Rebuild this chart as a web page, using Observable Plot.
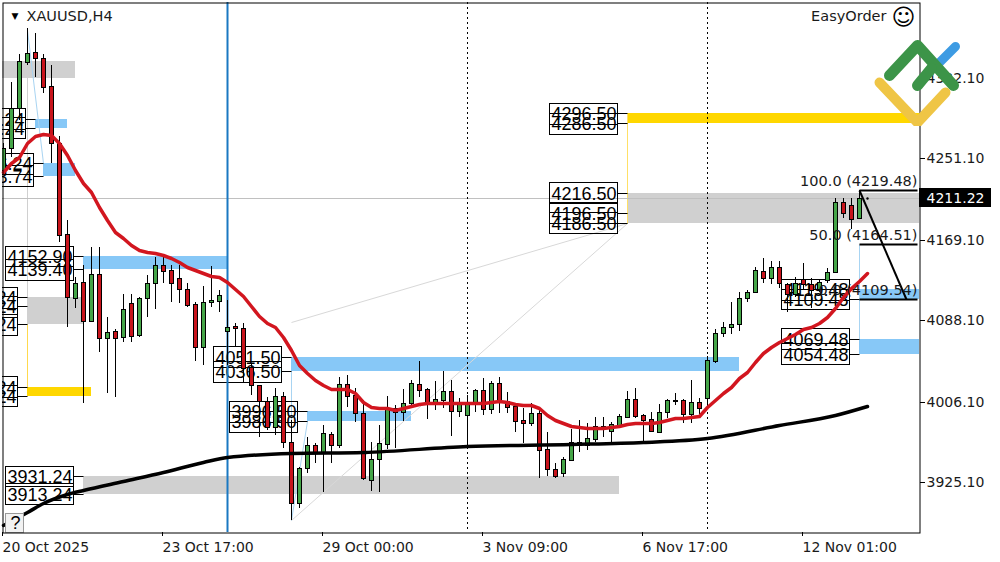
<!DOCTYPE html>
<html>
<head>
<meta charset="utf-8">
<script src="https://cdn.jsdelivr.net/npm/d3@7"></script>
<script src="https://cdn.jsdelivr.net/npm/@observablehq/plot@0.6"></script>
<style>
html,body{margin:0;padding:0;background:#fff;overflow:hidden}
svg{display:block}
</style>
</head>
<body>
<div id="chart"></div>
<script>
const symbolLabel = "XAUUSD,H4";
const eaLabel = "EasyOrder";
const lastPrice = 4211.22;
const priceTicks = [4332.10, 4251.10, 4169.10, 4088.10, 4006.10, 3925.10];
const timeTickBars = [0, 20, 40, 60, 80, 100];
const timeTickLabels = ["20 Oct 2025", "23 Oct 17:00", "29 Oct 00:00", "3 Nov 09:00", "6 Nov 17:00", "12 Nov 01:00"];

const opens = [4239.4,4261.7,4302.0,4348.3,4358.3,4352.3,4324.0,4266.7,4175.1,4110.5,4126.5,4087.2,4134.8,4070.2,4077.2,4071.2,4105.5,4073.2,4110.5,4125.5,4143.8,4138.8,4130.8,4119.5,4104.5,4061.2,4106.5,4107.5,4077.2,4082.2,4080.2,4040.9,4022.9,4006.6,3980.6,4011.9,3965.3,3904,3939.3,3962.3,3954.3,3973.6,3962.3,4023.9,4012.9,3994.6,3927.3,3948.3,3963.3,3999.6,3995.6,4004.6,4023.9,4018.9,4004.6,4007.7,4016.9,3996.6,3992.6,4005.6,4017.9,3998.6,4024.9,4006.6,4001.6,3987.6,3984.6,3994.6,3958.3,3938.3,3934.3,3947.3,3962.3,3962.3,3968.6,3981.6,3976.6,3982.6,3990.6,4008.9,3992.6,3988.6,3975.6,3995.6,4006.6,4007.6,3993.6,4005.6,4009.9,4046.9,4075.2,4081.2,4084.2,4110.5,4116.5,4137.8,4130.8,4141.8,4124.5,4114.5,4129.5,4124.5,4119.5,4128.8,4136.8,4207.1,4204.1,4191.1];
const highs = [4266.7,4328.0,4356.3,4382.5,4377.5,4356.3,4345.3,4273.7,4189.1,4131.8,4143.8,4161.8,4161.8,4091.5,4079.2,4114.5,4114.5,4111.5,4133.8,4151.8,4151.8,4143.8,4143.8,4125.5,4106.5,4122.5,4142.8,4118.5,4108.5,4085.2,4085.2,4044.9,4022.9,4010.9,4019.9,4015.9,3987.6,3940.3,3970.6,3964.3,3982.6,3975.6,4030.9,4032.9,4019.9,4007.6,3965.3,3982.6,4011.9,4002.6,4018.9,4027.9,4046.9,4019.9,4026.9,4036.9,4027.9,4009.9,4012.9,4018.9,4029.9,4026.9,4030.9,4015.9,4004.6,3999.6,4004.6,3999.6,3975.6,3944.3,3950.3,3978.6,3987.6,3984.6,3990.6,3990.6,3985.6,3993.6,4016.9,4019.9,3993.6,3995.6,4003.6,4008.9,4014.9,4008.9,4027.9,4009.9,4052.2,4079.2,4086.2,4106.5,4116.5,4118.5,4141.8,4150.8,4147.8,4147.8,4125.5,4131.8,4145.8,4130.8,4128.5,4140.8,4211.4,4211.4,4211.4,4219.4];
const lows = [4234.4,4252.7,4290.0,4345.3,4333.3,4317.0,4246.4,4166.8,4081.2,4100.5,4004.6,4087.2,4056.2,4014.9,4010.9,4066.2,4066.2,4071.2,4091.5,4099.5,4125.5,4106.5,4105.5,4101.5,4046.9,4042.9,4101.5,4096.5,4042.9,4061.2,4024.9,4012.9,3970.6,3977.6,3972.6,3959.3,3887,3899,3934.3,3944.3,3915,3944.3,3959.3,4000.6,3985.6,3927.3,3916,3915,3958.3,3959.3,3986.6,3999.6,4010.9,3988.6,3997.6,3999.6,3971.6,3990.6,3960.3,3995.6,3992.6,3993.6,3994.6,3994.6,3975.6,3964.3,3981.6,3929.3,3931.3,3929.3,3930.3,3947.3,3955.3,3957.3,3965.3,3970.6,3965.3,3979.6,3990.6,3989.6,3965.3,3975.6,3974.6,3989.6,4002.6,3984.6,3984.6,3993.6,4000.6,4044.9,4071.2,4074.2,4077.2,4106.5,4115.5,4125.5,4124.5,4120.5,4096.5,4111.5,4119.5,4100.5,4116.5,4125.5,4135.8,4191.1,4180.1,4190.1];
const closes = [4261.7,4302.0,4349.3,4357.3,4352.3,4323.0,4266.7,4174.1,4111.5,4125.5,4087.2,4134.8,4070.2,4076.2,4070.2,4099.5,4072.2,4110.5,4125.5,4143.8,4137.8,4125.5,4119.5,4103.5,4061.2,4106.5,4108.5,4113.5,4081.2,4080.2,4039.9,4022.9,4006.6,3980.6,4011.9,3965.3,3904,3939.3,3962.3,3954.3,3974.6,3962.3,4023.9,4011.9,3994.6,3929.3,3948.3,3964.3,3998.6,3995.6,4004.6,4024.9,4017.9,4004.6,4008.9,4016.9,3996.6,4004.6,4004.6,4017.9,3998.6,4024.9,4005.6,4000.6,3986.6,3984.6,3994.6,3957.3,3938.3,3931.3,3948.3,3965.3,3965.3,3969.6,3981.6,3978.6,3983.6,3991.6,4008.9,3991.6,3987.6,3976.6,3995.6,4007.6,4007.6,3993.6,4005.6,3999.6,4048.2,4075.2,4081.2,4084.2,4110.5,4116.5,4138.8,4130.8,4141.8,4125.5,4114.5,4125.5,4124.5,4118.5,4126.5,4136.8,4207.1,4196.1,4190.1,4211.4];

const fastMA = [4237.4,4246.5,4252.5,4266.6,4273.7,4275.7,4274.7,4266.6,4254.5,4239.4,4226.3,4217.3,4202.2,4189.1,4177.0,4170.9,4163.9,4158.9,4156.8,4155.8,4153.8,4150.8,4146.8,4141.7,4138.7,4135.7,4132.7,4131.7,4126.6,4119.6,4112.5,4102.4,4092.4,4085.3,4081.3,4071.2,4058.1,4043.0,4034.9,4027.9,4022.8,4018.8,4018.8,4018.8,4014.8,4005.7,4000.7,3999.7,3999.7,3997.7,3999.7,4001.7,4003.7,4004.7,4004.7,4004.7,4004.7,4004.7,4004.7,4004.7,4004.7,4005.7,4006.7,4005.7,4003.7,4002.7,4002.7,3999.7,3992.6,3987.6,3984.6,3981.5,3980.5,3979.5,3979.5,3979.5,3980.5,3981.5,3983.5,3984.6,3984.6,3984.6,3985.6,3987.6,3989.6,3989.6,3990.6,3991.6,4000.7,4007.7,4014.8,4020.8,4029.9,4035.9,4046.0,4055.1,4061.1,4066.2,4070.2,4074.2,4079.3,4081.3,4085.3,4091.4,4100.4,4111.5,4120.6,4127.6,4135.7];
const slowMABars = [0,3,5,8,10,15,20,25,28,36,45,58,71,80,88,97,104,108];
const slowMAValues = [3881.8,3894.9,3904.0,3913.0,3917.1,3926.1,3935.2,3945.3,3950.3,3954.3,3955.4,3961.4,3963.4,3965.4,3969.4,3982.6,3992.6,4001.7];

// zones: start bar, end bar, top level, bottom level, kind
const zoneStart = [-1,3.94,4.94,9.94,2.94,2.94,9.94,35.94,37.94,77.94,77.94,106.94,106.94];
const zoneEnd   = [8.94,7.94,8.94,27.94,9.94,10.94,76.94,91.94,50.94,116,116,116,116];
const zoneTop   = [4349.2,4291.24,4246.24,4152.90,4111.24,4021.24,3931.24,4051.50,3996.50,4216.50,4296.50,4069.48,4119.48];
const zoneBot   = [4332.1,4282.24,4233.74,4139.40,4084.24,4012.24,3913.24,4036.50,3986.50,4186.50,4286.50,4054.48,4109.48];
const zoneKind  = ["g","b","b","b","g","y","g","b","b","g","y","b","b"];
const zoneColors = {g:"#d0d0d0", b:"#87c8f7", y:"#ffd700"};

// boxed level labels: level, right edge of box (bar), end of leader (bar)
const boxLevels = [4291.24,4282.24,4246.24,4233.74,4152.90,4139.40,4111.24,4102.24,4084.24,4021.24,4012.24,3931.24,3913.24,4051.50,4036.50,3996.50,3986.50,4296.50,4286.50,4216.50,4196.50,4186.50,4119.48,4109.48,4069.48,4054.48];
const boxRight  = [2.69,2.69,3.69,3.69,8.69,8.69,1.69,1.69,1.69,1.69,1.69,8.69,8.69,34.81,34.81,36.69,36.69,76.69,76.69,76.69,76.69,76.69,105.69,105.69,105.69,105.69];
const boxLeader = [3.94,3.94,4.94,4.94,9.94,9.94,2.94,2.94,2.94,2.94,2.94,9.94,9.94,35.94,35.94,37.94,37.94,77.94,77.94,77.94,77.94,77.94,106.94,106.94,106.94,106.94];

// fib retracement
const fibLevels = [4219.48,4164.51,4109.54];
const fibText = ["100.0 (4219.48)","50.0 (4164.51)","0.0 (4109.54)"];

// thin connector lines: bar1, price1, bar2, price2, colour
const thinBar1 = [2.94,2.94,2.94,9.94,35.94,35.94,35.94,35.94,77.94,106.94];
const thinP1   = [4380.5,4349.2,4084.24,3913.24,4036.50,3886.9,3886.9,4086.3,4296.5,4164.51];
const thinBar2 = [4.94,2.94,2.94,9.94,35.94,37.94,77.94,77.94,77.94,106.94];
const thinP2   = [4246.5,4111.24,4021.24,3931.24,3886.9,3986.5,4186.5,4186.5,4186.5,4069.48];
const thinCol  = ["#a8d4f2","#d0d0d0","#ffd94d","#d0d0d0","#a8d4f2","#a8d4f2","#d8d8d8","#d8d8d8","#ffe066","#a8d4f2"];

// logo strokes (bar, price)
const logoBlueB = [117.06,118.94], logoBlueP = [4348.2,4364.4];
const logoGreenB = [110.69,114.19,118.69], logoGreenP = [4335.1,4365.4,4325.1];
const logoGreen2B = [114.19,116.06], logoGreen2P = [4325.1,4342.2];
const logoYellowB = [109.56,114.19,117.69], logoYellowP = [4328.1,4287.8,4318.0];

const candles = opens.map((o,i)=>({i,o,h:highs[i],l:lows[i],c:closes[i],up:closes[i]>=o}));
const zones = zoneStart.map((s,k)=>({s,e:zoneEnd[k],t:zoneTop[k],b:zoneBot[k],fill:zoneColors[zoneKind[k]]}));
const boxes = boxLevels.map((v,k)=>({v,r:boxRight[k],l:boxLeader[k]}));
const thins = thinBar1.map((b,k)=>({b1:b,p1:thinP1[k],b2:thinBar2[k],p2:thinP2[k],c:thinCol[k]}));
const pairs = (b,p)=>b.map((x,i)=>({x,y:p[i]}));
const UI = "DejaVu Sans";
const BOXF = "Liberation Sans";

const chart = Plot.plot({
  width:1000, height:562,
  marginLeft:2, marginRight:81, marginTop:2, marginBottom:30,
  style:{background:"#fff", maxWidth:"none", fontFamily:UI},
  x:{type:"linear", domain:[-0.125,114.5], round:true},
  y:{type:"linear", domain:[3874.8,4408.7], round:true},
  marks:[
    Plot.rect(zones,{x1:"s",x2:"e",y1:"b",y2:"t",fill:"fill",clip:true}),
    Plot.link(thins,{x1:"b1",y1:"p1",x2:"b2",y2:"p2",stroke:"c",strokeWidth:1,clip:true}),
    Plot.ruleY([lastPrice],{stroke:"#c0c0c0",strokeWidth:1}),
    Plot.rect(boxes,{x1:d=>d.r-8.5,x2:"r",y1:d=>d.v-10.5,y2:d=>d.v+10.5,fill:"none",stroke:"#000",strokeWidth:1,dx:0.5,dy:0.5,clip:true}),
    Plot.link(boxes,{x1:"r",x2:"l",y1:"v",y2:"v",stroke:"#000",strokeWidth:1,clip:true}),
    Plot.text(boxes,{x:"r",y:"v",text:d=>d.v.toFixed(2),textAnchor:"end",dx:-1,dy:1,fontFamily:BOXF,fontSize:18,fill:"#000",clip:true}),
    Plot.ruleX([58,88],{stroke:"#000",strokeWidth:1,strokeDasharray:"2,3"}),
    Plot.ruleX([28],{stroke:"#1a78c2",strokeWidth:2}),
    Plot.ruleX(candles,{x:"i",y1:"l",y2:"h",stroke:"#000",strokeWidth:1,clip:true}),
    Plot.rect(candles,{x1:d=>d.i-0.25,x2:d=>d.i+0.25,y1:"o",y2:"c",fill:d=>d.up?"#45a548":"#c8141c",stroke:"#000",strokeWidth:1,dx:0.5,dy:0.5,clip:true}),
    Plot.line(pairs(slowMABars,slowMAValues),{x:"x",y:"y",stroke:"#000",strokeWidth:3.5,curve:"monotone-x"}),
    Plot.line(fastMA.map((v,i)=>({x:i,y:v})),{x:"x",y:"y",stroke:"#d2161f",strokeWidth:3.5,strokeLinejoin:"round"}),
    Plot.link(fibLevels,{x1:()=>106.94,x2:()=>114.2,y1:d=>d,y2:d=>d,stroke:"#000",strokeWidth:2}),
    Plot.link([0],{x1:()=>106.94,y1:()=>4219.48,x2:()=>112.9,y2:()=>4109.54,stroke:"#000",strokeWidth:2}),
    Plot.dot([lastPrice],{x:()=>108,y:d=>d,r:1.2,fill:"#000"}),
    Plot.text(fibLevels,{x:()=>114.2,y:d=>d,text:(d,i)=>fibText[i],textAnchor:"end",dy:-9,fontFamily:UI,fontSize:14.5,fill:"#1a1a1a"}),
    Plot.rect([0],{x1:()=>0.31,x2:()=>2.56,y1:()=>3874.8,y2:()=>3894,fill:"#f2f2f2",stroke:"#999",strokeWidth:1,dx:0.5,dy:0.5}),
    Plot.text(["?"],{x:()=>1.44,y:()=>3884,text:d=>d,fontFamily:BOXF,fontSize:18,fill:"#000"}),
    Plot.frame({stroke:"#000",strokeWidth:1,dx:0.5,dy:0.5}),
    Plot.axisY({anchor:"right",ticks:priceTicks,tickFormat:d=>d.toFixed(2),tickSize:5,tickPadding:2,fontSize:14,label:null,fontFamily:UI,stroke:"#000",fill:"#1a1a1a"}),
    Plot.axisX({anchor:"bottom",ticks:timeTickBars,tickFormat:d=>timeTickLabels[timeTickBars.indexOf(d)],tickSize:4,tickPadding:6,textAnchor:"start",dx:-1,fontSize:14,label:null,fontFamily:UI,stroke:"#000",fill:"#1a1a1a"}),
    Plot.rect([0],{x1:()=>114.56,x2:()=>123.44,y1:()=>4202.2,y2:()=>4221.3,fill:"#000"}),
    Plot.text([lastPrice],{x:()=>119,y:d=>d,text:d=>d.toFixed(2),fill:"#fff",fontFamily:UI,fontSize:14}),
    Plot.text(["▼"],{frameAnchor:"top-left",dx:9,dy:10,fontSize:9,fill:"#000",fontFamily:UI}),
    Plot.text([symbolLabel],{frameAnchor:"top-left",dx:24,dy:8,fontSize:14.5,fill:"#1a1a1a",fontFamily:UI}),
    Plot.text([eaLabel],{frameAnchor:"top-right",dx:-33,dy:8,fontSize:14.5,fill:"#1a1a1a",fontFamily:UI}),
    Plot.text(["☺"],{frameAnchor:"top-right",dx:-4,dy:6,fontSize:23,fill:"#000",fontFamily:UI}),
    Plot.line(pairs(logoBlueB,logoBlueP),{x:"x",y:"y",stroke:"#3d9be3",strokeWidth:9,strokeLinecap:"round"}),
    Plot.line(pairs(logoGreenB,logoGreenP),{x:"x",y:"y",stroke:"#3c9448",strokeWidth:11,strokeLinecap:"round",strokeLinejoin:"round"}),
    Plot.line(pairs(logoGreen2B,logoGreen2P),{x:"x",y:"y",stroke:"#3c9448",strokeWidth:11,strokeLinecap:"round"}),
    Plot.line(pairs(logoYellowB,logoYellowP),{x:"x",y:"y",stroke:"#efc545",strokeWidth:10,strokeLinecap:"round",strokeLinejoin:"miter"})
  ]
});
document.getElementById("chart").append(chart);
</script>
</body>
</html>
